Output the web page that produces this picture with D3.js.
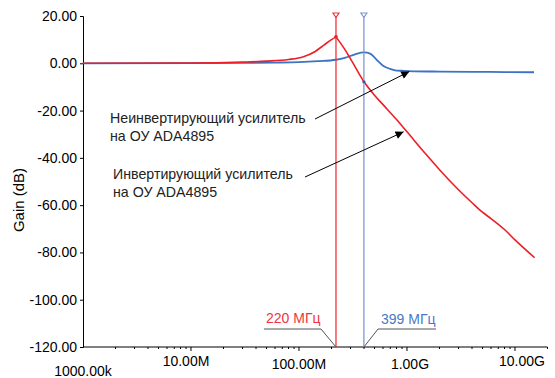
<!DOCTYPE html>
<html>
<head>
<meta charset="utf-8">
<script src="https://cdn.jsdelivr.net/npm/d3@7"></script>
<style>
  html, body { margin: 0; padding: 0; background: #fff; }
  svg { display: block; font-family: "Liberation Sans", Arial, Helvetica, sans-serif; }
</style>
</head>
<body>
<svg id="chart" width="555" height="378"></svg>
<script>
// Frequency response of ADA4895 amplifiers (gain in dB vs frequency in Hz)
const freqNonInv = [1e6, 1e7, 3e7, 6e7, 1e8, 1.5e8, 2.2e8, 2.7e8, 3.3e8, 4e8, 4.6e8, 5.3e8, 6e8, 7e8, 8e8, 9.5e8, 1.2e9, 2e9, 4e9, 8e9, 1.5e10];
const gainNonInv = [0, 0.05, 0.15, 0.3, 0.5, 0.9, 1.5, 2.4, 3.8, 4.6, 4.0, 1.2, -1.0, -2.4, -3.1, -3.2, -3.4, -3.5, -3.6, -3.7, -3.8];

const freqInvRise = [1e6, 1e7, 3e7, 5e7, 8e7, 1.1e8, 1.4e8, 1.7e8, 2e8, 2.2e8];
const gainInvRise = [0, 0.1, 0.5, 0.9, 1.6, 2.8, 4.9, 7.7, 10, 11.2];
const freqInvFall = [2.2e8, 2.6e8, 3e8, 4e8, 5e8, 6e8, 8e8, 1e9, 1.5e9, 2e9, 3e9, 4e9, 5e9, 6e9, 8e9, 1e10, 1.5e10];
const gainInvFall = [11.2, 6.5, 1.9, -7.8, -13.5, -17.5, -23.8, -29, -38.5, -45, -53.5, -59, -63, -65.7, -70.3, -74.7, -82];

const yTicks = [20, 0, -20, -40, -60, -80, -100, -120];
const xTicks = [1e7, 1e8, 1e9, 1e10];
const xTickLabels = ["10.00M", "100.00M", "1.00G", "10.00G"];
const xStartLabel = "1000.00k";

const markerFreqs = [220e6, 399e6];
const markerLabels = ["220 МГц", "399 МГц"];

const noteNonInv = ["Неинвертирующий усилитель", "на ОУ ADA4895"];
const noteInv = ["Инвертирующий усилитель", "на ОУ ADA4895"];
const noteNonInvTarget = [1.05e9, -3.5];
const noteInvTarget = [9.3e8, -29];

const RED = "#ec1f27", BLUE = "#3d73c1";
const RED_MARK = "#f2343c", BLUE_MARK = "#7f97cf";

const svg = d3.select("#chart");
const x = d3.scaleLog().domain([1e6, 2e10]).range([83, 547.5]);
const y = d3.scaleLinear().domain([-120, 20]).range([347, 16]);

// arrowhead
svg.append("defs").append("marker")
  .attr("id", "arrow").attr("viewBox", "0 0 10 10")
  .attr("refX", 10).attr("refY", 5)
  .attr("markerWidth", 11).attr("markerHeight", 8)
  .attr("markerUnits", "userSpaceOnUse")
  .attr("orient", "auto")
  .append("path").attr("d", "M0,0 L10,5 L0,10 Z").attr("fill", "#000");

// y axis
const yAxis = d3.axisLeft(y).tickValues(yTicks).tickSize(3).tickPadding(3)
  .tickFormat(d => d.toFixed(2));
const gy = svg.append("g").attr("transform", "translate(83,0)").call(yAxis);
gy.select(".domain").attr("stroke", "#000");
gy.selectAll("text").attr("font-size", 14).attr("fill", "#000")
  .attr("font-family", "Liberation Sans, Arial, sans-serif");

svg.append("text")
  .attr("transform", "translate(24,200) rotate(-90)")
  .attr("text-anchor", "middle").attr("font-size", 15).attr("fill", "#000")
  .text("Gain (dB)");

// x axis: minor + major log ticks
const gx = svg.append("g").attr("transform", "translate(0,347)");
gx.append("line").attr("x1", x.range()[0]).attr("x2", x.range()[1])
  .attr("stroke", "#000");
const minor = [];
for (let dec = 1e6; dec <= 1e10; dec *= 10) {
  for (let k = 2; k <= 9; k++) if (dec * k <= 2e10) minor.push(dec * k);
}
gx.selectAll(".minor").data(minor).join("line").attr("class", "minor")
  .attr("x1", d => x(d)).attr("x2", d => x(d)).attr("y1", 0).attr("y2", 2)
  .attr("stroke", "#000");
gx.selectAll(".major").data(xTicks).join("line").attr("class", "major")
  .attr("x1", d => x(d)).attr("x2", d => x(d)).attr("y1", 0).attr("y2", 4)
  .attr("stroke", "#000");
gx.selectAll(".xlab").data(xTicks).join("text").attr("class", "xlab")
  .attr("x", (d, i) => x(d) + [-5, 0, 3, 7][i])
  .attr("y", (d, i) => [19, 22, 22, 19][i])
  .attr("text-anchor", "middle").attr("font-size", 14).attr("fill", "#000")
  .text((d, i) => xTickLabels[i]);
gx.append("text").attr("x", x(1e6)).attr("y", 29)
  .attr("text-anchor", "middle").attr("font-size", 14).attr("fill", "#000")
  .text(xStartLabel);

// curves
const line = d3.line().x(d => x(d[0])).y(d => y(d[1])).curve(d3.curveMonotoneX);
const zip = (f, g) => f.map((v, i) => [v, g[i]]);

svg.append("path")
  .attr("d", line(zip(freqNonInv, gainNonInv)))
  .attr("fill", "none").attr("stroke", BLUE).attr("stroke-width", 1.8);

svg.append("path")
  .attr("d", line(zip(freqInvRise, gainInvRise)) + line(zip(freqInvFall, gainInvFall)))
  .attr("fill", "none").attr("stroke", RED).attr("stroke-width", 1.6)
  .attr("stroke-linejoin", "round").attr("stroke-linecap", "round");

// frequency markers
const markColors = [RED_MARK, BLUE_MARK];
markerFreqs.forEach((f, i) => {
  const mx = x(f);
  svg.append("line").attr("x1", mx).attr("x2", mx).attr("y1", y(20)).attr("y2", y(-120))
    .attr("stroke", markColors[i]).attr("stroke-width", 1.3);
  svg.append("path")
    .attr("d", `M${mx - 3},${y(20) - 3} L${mx + 3},${y(20) - 3} L${mx},${y(20) + 1.5} Z`)
    .attr("fill", "#fff").attr("stroke", markColors[i]).attr("stroke-width", 1.2);
});

// dots where markers cross the traces
svg.append("circle").attr("cx", x(220e6)).attr("cy", y(11.2)).attr("r", 1.8).attr("fill", RED);
svg.append("circle").attr("cx", x(399e6)).attr("cy", y(-7.8)).attr("r", 1.6).attr("fill", "#3a56a0");

// marker value callouts
const base = y(-120);
const callY = 329;
svg.append("polyline")
  .attr("points", `264,${callY} 321,${callY} ${x(220e6)},${base}`)
  .attr("fill", "none").attr("stroke", "#555").attr("stroke-width", 1);
svg.append("polyline")
  .attr("points", `${x(399e6)},${base} 378,${callY} 436,${callY}`)
  .attr("fill", "none").attr("stroke", "#555").attr("stroke-width", 1);
svg.append("text").attr("x", 266).attr("y", 323).attr("font-size", 14)
  .attr("fill", RED_MARK).text(markerLabels[0]);
svg.append("text").attr("x", 381).attr("y", 324).attr("font-size", 14)
  .attr("fill", "#4a79c4").text(markerLabels[1]);

// annotations with arrows
function note(lines, tx, ty, from, target) {
  const t = svg.append("text").attr("font-size", 14.2).attr("fill", "#222");
  lines.forEach((s, i) => t.append("tspan").attr("x", tx).attr("y", ty + i * 17.5).text(s));
  svg.append("line")
    .attr("x1", from[0]).attr("y1", from[1])
    .attr("x2", x(target[0])).attr("y2", y(target[1]))
    .attr("stroke", "#000").attr("stroke-width", 1)
    .attr("marker-end", "url(#arrow)");
}
note(noteNonInv, 110, 123, [315, 119], noteNonInvTarget);
note(noteInv, 113, 179, [305, 177], noteInvTarget);
</script>
</body>
</html>
